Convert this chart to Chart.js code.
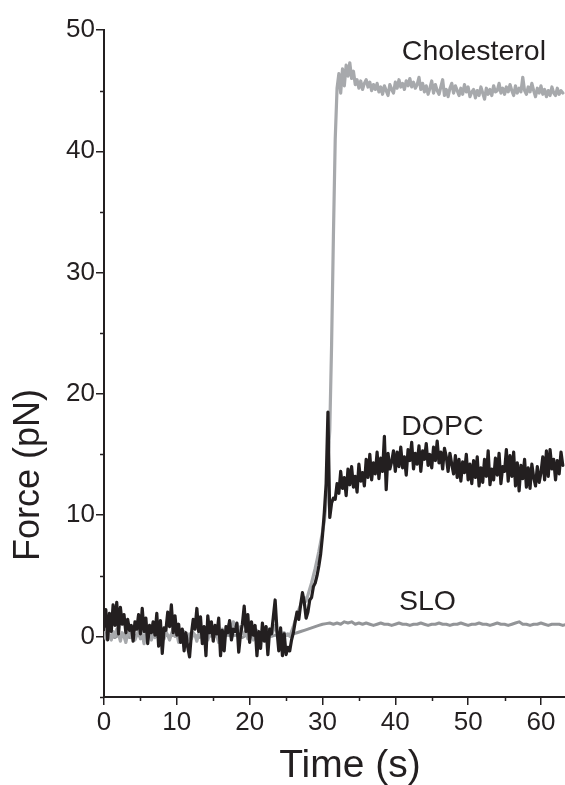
<!DOCTYPE html>
<html>
<head>
<meta charset="utf-8">
<script src="https://cdn.jsdelivr.net/npm/chart.js@4"></script>
<style>
  html, body { margin: 0; padding: 0; background: #fff; }
  #wrap { position: relative; width: 565px; height: 785px; }
</style>
</head>
<body>
<div id="wrap"><canvas id="forceChart"></canvas></div>
<script>
// force traces, sampled every 0.25 s (SLO every 0.5 s)
const DT_FINE = 0.25;
const DT_SLO = 0.5;

const dopc = [
  0.8, 2.2, -0.3, 1.9,   0.4, 2.6, 0.9, 2.8,   0.2, 2.4, 1.0, 1.8,   0.3, 1.4, 0.5, 0.9,
  -0.4, 1.2, 0.6, 1.8,   0.2, 2.3, 0.4, 1.5,   -0.6, 0.9, 0.3, 1.2,  0.1, 1.9, -0.8, 1.3,
  -1.4, 0.7, 0.5, 2.0,   0.8, 2.6, 0.3, 1.7,   0.1, 1.0, -0.5, 0.6,  -1.2, 0.3, -0.9, -1.7,
  0.2, 1.4, 0.6, 2.3,    0.4, 1.6, -0.6, 0.8,  -1.6, 1.7, 0.3, 1.2,  -0.4, 0.9, 0.2, 1.5,
  -1.6, 0.5, -1.2, 0.8,  0.3, 1.3, -0.3, 0.6,  0.4, 1.1, -1.3, 0.2,  1.0, 2.5, 0.4, 1.8,
  -0.5, 1.2, 0.1, 0.9,   -1.6, 0.4, -1.0, 1.1, -0.4, 0.8, -1.5, 0.6, 0.2, 1.6, 3.0, 0.5,
  -1.2, 0.7, -1.6, 0.2,  -1.5, -0.9, -1.2, -0.3, 0.3, 1.2, 2.0, 1.4, 2.6, 3.6, 2.8, 1.5,
  2.0, 3.0, 3.2, 4.1,    4.4, 5.0, 5.8, 6.8,   8.3, 10.2, 12.6, 18.5, 9.8, 11.0, 11.4, 11.3,
  12.6, 11.8, 13.6, 12.2, 13.1, 11.6, 13.8, 12.5, 14.0, 12.3, 13.2, 11.9, 14.2, 12.8, 13.5, 12.4,
  14.6, 13.1, 15.0, 12.9, 14.3, 13.4, 15.2, 13.0, 14.7, 13.6, 16.5, 12.1, 15.1, 13.8, 14.4, 15.3,
  13.6, 15.2, 14.0, 15.6, 13.9, 14.8, 13.3, 15.4, 14.5, 16.0, 13.8, 15.1, 14.2, 15.7, 13.6, 15.3,
  14.6, 15.9, 14.1, 15.0, 13.9, 15.6, 14.5, 16.1, 14.3, 15.2, 13.8, 15.5, 14.8, 13.6, 15.1, 14.2,
  13.4, 14.9, 13.1, 14.6, 12.8, 14.4, 13.5, 15.0, 12.9, 14.2, 12.6, 14.5, 13.1, 14.8, 12.4, 13.9,
  12.7, 14.6, 13.2, 15.3, 12.5, 13.8, 12.9, 14.7, 13.3, 15.1, 12.6, 14.0, 13.6, 15.4, 12.8, 14.9,
  13.2, 15.2, 12.4, 14.3, 12.0, 14.1, 13.0, 14.6, 12.3, 13.9, 12.2, 14.2, 13.1, 12.4, 14.0, 12.7,
  13.5, 14.8, 12.9, 15.3, 13.2, 15.4, 13.8, 14.6, 12.9, 14.5, 13.4, 15.2, 14.1
];

const cholesterol = [
  0.3, -0.2, 0.5, 0.1,   -0.3, 0.4, 0.0, 0.6,  0.2, -0.4, 0.3, 0.0,  -0.5, 0.2, 0.4, -0.1,
  0.3, -0.3, 0.1, 0.5,   -0.2, 0.2, -0.6, 0.3, 0.0, 0.4, -0.3, 0.2,  -0.1, 0.5, 0.0, -0.4,
  0.3, -0.2, 0.4, 0.1,   -0.3, 0.2, 0.6, 0.0,  0.2, -0.5, 0.3, -0.1, 0.4, 0.0, -0.3, 0.2,
  -0.2, 0.3, 0.1, -0.4,  0.2, 0.5, -0.2, 0.0,  0.3, -0.3, 0.2, 0.4,  -0.1, 0.3, 0.0, -0.5,
  0.2, 0.6, 0.1, 0.4,    0.8, 1.1, 0.6, 1.2,   0.9, 1.0, 0.5, 0.8,   0.3, 0.1, 0.5, -0.2,
  0.2, 0.4, -0.3, 0.1,   0.5, 0.0, 0.3, -0.2,  0.4, 0.8, 0.2, 0.6,   0.1, 0.5, 0.9, 0.3,
  0.0, 0.4, -0.2, 0.3,   0.1, 0.2, 0.0, 0.4,   0.8, 1.3, 1.7, 2.2,   2.6, 3.0, 3.2, 2.9,
  3.4, 3.9, 4.4, 5.0,    5.6, 6.3, 7.0, 7.8,   8.6, 9.5, 11.0, 14.5, 17.0, 24.0, 33.0, 41.0,
  45.2, 46.4, 44.8, 46.8, 45.4, 47.1, 46.2, 47.3, 46.0, 46.6, 45.5, 45.9, 45.2, 45.8, 45.1, 45.6,
  45.9, 45.3, 45.7, 45.0, 45.5, 45.1, 45.6, 44.9, 45.3, 44.7, 45.4, 45.0, 44.6, 45.5, 45.1, 44.8,
  45.7, 45.2, 45.9, 45.3, 45.6, 45.1, 45.8, 45.4, 46.0, 45.3, 45.7, 45.2, 45.5, 46.1, 45.1, 45.6,
  44.9, 45.4, 44.7, 45.2, 45.8, 44.8, 45.5, 45.0, 44.7, 45.3, 45.9, 44.6, 45.1, 44.5, 45.2, 45.6,
  44.8, 45.4, 45.0, 44.6, 45.2, 44.7, 45.5, 44.9, 45.3, 44.5, 44.9, 45.1, 44.4, 45.0, 44.6, 45.3,
  44.8, 44.3, 45.2, 44.7, 45.1, 44.6, 45.4, 44.9, 45.0, 45.6, 44.8, 45.2, 44.7, 45.3, 44.9, 45.5,
  45.0, 44.6, 45.4, 44.8, 45.2, 44.9, 46.1, 45.0, 44.7, 45.3, 44.9, 45.6, 45.0, 44.5, 45.2, 44.8,
  45.4, 44.7, 45.1, 44.5, 45.0, 44.6, 45.3, 44.8, 44.6, 45.2, 44.7, 45.0, 44.8
];

const slo = [
  0.0, 0.1, 0.0, -0.1, 0.1, 0.0, 0.1, -0.1, 0.0, 0.1,
  0.0, -0.1, 0.0, 0.1, 0.0, 0.0, -0.1, 0.1, 0.0, 0.1,
  0.0, -0.1, 0.1, 0.0, 0.0, 0.1, -0.1, 0.0, 0.1, 0.0,
  0.1, 0.0, -0.1, 0.0, 0.1, 0.0, 0.1, 0.0, -0.1, 0.1,
  0.0, 0.0, 0.1, 0.0, -0.1, 0.1, 0.0, 0.1, 0.0, 0.0,
  0.1, 0.1,
  0.2, 0.3, 0.4, 0.5, 0.6, 0.7, 0.8, 0.9, 1.0, 1.05, 1.1, 1.0,
  1.1, 1.0, 1.2, 1.1, 1.2, 1.0, 1.1, 1.0, 1.1, 1.0, 0.9, 1.0, 1.1, 1.0, 1.0, 0.9,
  1.0, 1.1, 1.0, 1.0, 0.9, 1.0, 1.0, 1.1, 1.0, 0.9, 1.0, 1.0, 1.1, 1.0, 1.0, 0.9,
  1.0, 1.0, 1.1, 1.0, 0.9, 1.0, 1.0, 1.1, 1.0, 1.0, 0.9, 1.0, 1.1, 1.0, 1.0, 0.9,
  1.0, 1.1, 1.2, 1.0, 1.0, 0.9, 1.0, 1.0, 1.1, 1.0, 0.9, 1.0, 1.0, 1.0, 0.9, 1.0
];

const xTicks = [0, 10, 20, 30, 40, 50, 60];
const yTicks = [0, 10, 20, 30, 40, 50];
const xMinor = [5, 15, 25, 35, 45, 55];
const yMinor = [-5, 5, 15, 25, 35, 45];

// trace names written next to the curves (anchor in data units, text baseline)
const traceLabels = [
  { text: 'Cholesterol', x: 40.9, y: 47.5 },
  { text: 'DOPC', x: 40.8, y: 16.6 },
  { text: 'SLO', x: 40.5, y: 2.2 }
];

const INK = '#231f20';
const FONT = '"Liberation Sans", Arial, Helvetica, sans-serif';

const toPoints = (vals, dt) => vals.map((v, i) => ({ x: i * dt, y: v }));

const decorations = {
  id: 'decorations',
  afterDraw(chart) {
    const { ctx, chartArea, scales: { x, y } } = chart;
    ctx.save();
    ctx.strokeStyle = INK;
    ctx.lineWidth = 1.5;
    ctx.beginPath();
    xMinor.forEach(v => {
      const px = Math.round(x.getPixelForValue(v)) + 0.5;
      ctx.moveTo(px, chartArea.bottom);
      ctx.lineTo(px, chartArea.bottom + 4);
    });
    yMinor.forEach(v => {
      const py = Math.round(y.getPixelForValue(v)) + 0.5;
      ctx.moveTo(chartArea.left - 4, py);
      ctx.lineTo(chartArea.left, py);
    });
    ctx.stroke();

    ctx.fillStyle = INK;
    ctx.font = '28.5px ' + FONT;
    ctx.textAlign = 'left';
    ctx.textBaseline = 'alphabetic';
    traceLabels.forEach(l => {
      ctx.fillText(l.text, x.getPixelForValue(l.x), y.getPixelForValue(l.y));
    });

    // axis titles
    ctx.textAlign = 'center';
    ctx.textBaseline = 'middle';
    ctx.font = '39px ' + FONT;
    ctx.fillText('Time (s)', 350, 766);
    ctx.translate(29, 475);
    ctx.rotate(-Math.PI / 2);
    ctx.font = '36px ' + FONT;
    ctx.fillText('Force (pN)', 0, 0);
    ctx.restore();
  }
};

const axisCommon = {
  border: { display: true, color: INK, width: 2 },
  grid: { drawOnChartArea: false, color: INK, lineWidth: 1.5, tickLength: 8 },
  ticks: { color: INK, font: { family: FONT, size: 26 } }
};

new Chart(document.getElementById('forceChart'), {
  type: 'line',
  data: {
    datasets: [
      {
        label: 'DOPC',
        data: toPoints(dopc, DT_FINE),
        borderColor: INK,
        borderWidth: 3.2
      },
      {
        label: 'Cholesterol',
        data: toPoints(cholesterol, DT_FINE),
        borderColor: '#a7a9ac',
        borderWidth: 3.2
      },
      {
        label: 'SLO',
        data: toPoints(slo, DT_SLO),
        borderColor: '#939598',
        borderWidth: 3
      }
    ]
  },
  options: {
    responsive: true,
    maintainAspectRatio: false,
    animation: false,
    devicePixelRatio: 1,
    layout: { padding: { top: 30, right: 0, left: 0, bottom: 0 } },
    elements: {
      point: { radius: 0 },
      line: { tension: 0, fill: false, borderJoinStyle: 'round', borderCapStyle: 'round' }
    },
    plugins: {
      legend: { display: false },
      tooltip: { enabled: false }
    },
    scales: {
      x: {
        type: 'linear',
        min: 0,
        max: 63.3,
        border: axisCommon.border,
        grid: axisCommon.grid,
        ticks: { ...axisCommon.ticks, padding: 2, maxRotation: 0, autoSkip: false },
        afterBuildTicks: scale => { scale.ticks = xTicks.map(v => ({ value: v })); },
        afterFit: scale => { scale.height = 88; }
      },
      y: {
        type: 'linear',
        min: -5,
        max: 50,
        border: axisCommon.border,
        grid: axisCommon.grid,
        ticks: { ...axisCommon.ticks, padding: 1 },
        afterBuildTicks: scale => { scale.ticks = yTicks.map(v => ({ value: v })); },
        afterFit: scale => { scale.width = 104; }
      }
    }
  },
  plugins: [decorations]
});
</script>
</body>
</html>
